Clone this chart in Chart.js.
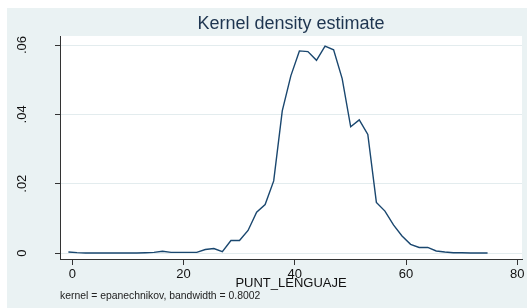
<!DOCTYPE html>
<html><head><meta charset="utf-8">
<script src="https://cdn.jsdelivr.net/npm/chart.js@4"></script>
<style>html,body{margin:0;padding:0;background:#fff;}canvas{display:block;}</style>
</head><body>
<canvas id="c" width="527" height="308"></canvas>
<script>
// ---- data ----
const xGrid = [-0.70, 0.84, 2.38, 3.91, 5.45, 6.99, 8.53, 10.07, 11.60, 13.14,
  14.68, 16.22, 17.76, 19.29, 20.83, 22.37, 23.91, 25.45, 26.98, 28.52,
  30.06, 31.60, 33.14, 34.67, 36.21, 37.75, 39.29, 40.83, 42.36, 43.90,
  45.44, 46.98, 48.52, 50.05, 51.59, 53.13, 54.67, 56.21, 57.74, 59.28,
  60.82, 62.36, 63.90, 65.43, 66.97, 68.51, 70.05, 71.59, 73.12, 74.66];
const density = [0.0003, 0.0001, 0.0000, 0.0000, 0.0000, 0.0000, 0.0000, 0.0000, 0.0000, 0.0001,
  0.0002, 0.0005, 0.0002, 0.0002, 0.0002, 0.0002, 0.0010, 0.0013, 0.0004, 0.0036,
  0.0036, 0.0065, 0.0118, 0.0140, 0.0208, 0.0410, 0.0511, 0.0583, 0.0581, 0.0556,
  0.0597, 0.0586, 0.0503, 0.0364, 0.0384, 0.0342, 0.0146, 0.0121, 0.0081, 0.0049,
  0.0025, 0.0016, 0.0016, 0.0006, 0.0003, 0.0001, 0.0001, 0.0000, 0.0000, 0.0000];
const xTicks = [0, 20, 40, 60, 80];
const yTicks = [0, 0.02, 0.04, 0.06];
const yTickLabels = ['0', '.02', '.04', '.06'];
const titleText = 'Kernel density estimate';
const xTitle = 'PUNT_LENGUAJE';
const noteText = 'kernel = epanechnikov, bandwidth = 0.8002';

const FONT = '"Liberation Sans", Arial, Helvetica, sans-serif';

const bgPlugin = {
  id: 'bg',
  beforeDraw(chart) {
    const c = chart.ctx, a = chart.chartArea;
    c.save();
    c.fillStyle = '#ffffff';
    c.fillRect(0, 0, chart.width, chart.height);
    c.fillStyle = '#eaf2f3';
    c.fillRect(7, 8, chart.width - 7, chart.height - 8);
    c.fillStyle = '#ffffff';
    c.fillRect(a.left, a.top, a.right - a.left, a.bottom - a.top);
    c.restore();
  }
};

new Chart(document.getElementById('c').getContext('2d'), {
  type: 'line',
  data: {
    datasets: [{
      data: xGrid.map((x, i) => ({ x: x, y: density[i] })),
      borderColor: '#1a476f',
      borderWidth: 1.4,
      pointRadius: 0,
      tension: 0,
      fill: false
    }]
  },
  options: {
    responsive: false,
    animation: false,
    devicePixelRatio: 1,
    layout: { padding: { left: 0, right: 5, top: 0, bottom: 0 } },
    plugins: {
      legend: { display: false },
      tooltip: { enabled: false },
      title: {
        display: true, text: titleText, fullSize: false, color: '#1e3550',
        font: { family: FONT, size: 18, weight: 'normal', lineHeight: 1 },
        padding: { top: 15, bottom: 3 }
      },
      subtitle: {
        display: true, text: noteText, position: 'bottom', align: 'start', fullSize: false,
        color: '#222222',
        font: { family: FONT, size: 10.4, weight: 'normal', lineHeight: 1.2 },
        padding: { top: 0, bottom: 5.35 }
      }
    },
    scales: {
      x: {
        type: 'linear', min: -2.21, max: 80.85,
        afterBuildTicks: s => { s.ticks = xTicks.map(v => ({ value: v })); },
        afterFit: s => { s.height = 31.15; },
        grid: { drawOnChartArea: false, tickLength: 6, tickColor: '#333333', tickWidth: 1 },
        border: { color: '#333333', width: 1 },
        ticks: { color: '#111111', font: { family: FONT, size: 13 }, padding: 2, maxRotation: 0, autoSkip: false,
          callback: v => String(v) },
        title: { display: true, text: xTitle, color: '#111111', font: { family: FONT, size: 13, lineHeight: 1 },
          padding: { top: 0, bottom: 0 } }
      },
      y: {
        type: 'linear', min: -0.00173, max: 0.0626,
        afterBuildTicks: s => { s.ticks = yTicks.map(v => ({ value: v })); },
        afterFit: s => { s.width = 60; },
        grid: { color: '#e3ecee', lineWidth: 1, tickLength: 5, tickColor: '#333333', tickWidth: 1 },
        border: { color: '#333333', width: 1 },
        ticks: { minRotation: 90, maxRotation: 90, crossAlign: 'center', padding: 23.5, color: '#111111',
          font: { family: FONT, size: 13 }, autoSkip: false,
          callback: v => { const k = yTicks.findIndex(t => Math.abs(t - v) < 1e-9); return k >= 0 ? yTickLabels[k] : ''; } }
      }
    }
  },
  plugins: [bgPlugin]
});
</script>
</body></html>
